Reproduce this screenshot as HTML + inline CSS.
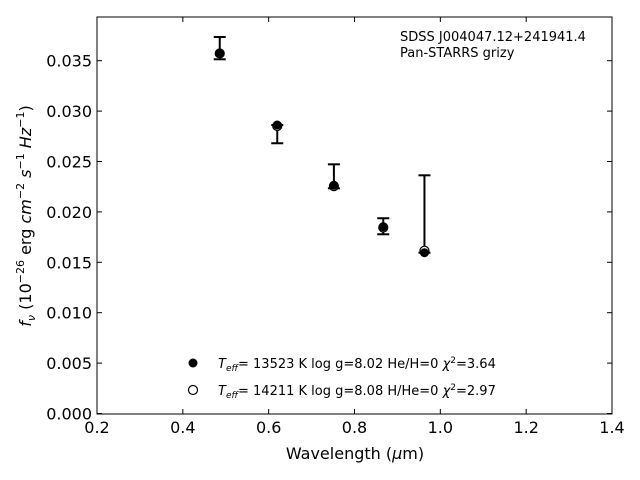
<!DOCTYPE html>
<html><head><meta charset="utf-8"><style>
body{margin:0;background:#fff}
svg{display:block;font-family:"DejaVu Sans","Liberation Sans",sans-serif}
</style></head><body>
<svg id="chart" width="640" height="480">
<rect x="97" y="17" width="515" height="397" fill="none" stroke="#000" stroke-width="1"/>
<g id="ticks"></g><g id="marks"></g>
<text x="355" y="459" font-size="16" text-anchor="middle">Wavelength (<tspan font-style="italic">μ</tspan>m)</text>
<text transform="translate(31,216) rotate(-90)" font-size="16" text-anchor="middle"><tspan font-style="italic">f<tspan font-size="11" dy="4">ν</tspan></tspan><tspan dy="-4"> (10</tspan><tspan font-size="11" dy="-7">−26</tspan><tspan dy="7"> erg </tspan><tspan font-style="italic">cm</tspan><tspan font-size="11" dy="-7">−2</tspan><tspan dy="7" font-style="italic"> s</tspan><tspan font-size="11" dy="-7">−1</tspan><tspan dy="7" font-style="italic"> Hz</tspan><tspan font-size="11" dy="-7">−1</tspan><tspan dy="7">)</tspan></text>
<text x="400" y="41" font-size="13">SDSS J004047.12+241941.4</text>
<text x="400" y="57" font-size="13">Pan-STARRS grizy</text>
<circle cx="193" cy="363" r="4.5" fill="#000"/>
<text x="218" y="368" font-size="13"><tspan font-style="italic">T<tspan font-size="9" dy="3">eff</tspan></tspan><tspan dy="-3">= 13523 K  log g=8.02  He/H=0  </tspan><tspan font-style="italic">χ</tspan><tspan font-size="9" dy="-5">2</tspan><tspan dy="5">=3.64</tspan></text>
<circle cx="193" cy="390" r="4.5" fill="#fff" stroke="#000" stroke-width="1.2"/>
<text x="218" y="395" font-size="13"><tspan font-style="italic">T<tspan font-size="9" dy="3">eff</tspan></tspan><tspan dy="-3">= 14211 K  log g=8.08  H/He=0  </tspan><tspan font-style="italic">χ</tspan><tspan font-size="9" dy="-5">2</tspan><tspan dy="5">=2.97</tspan></text>
</svg>
<script>
const wavelengths=[0.486,0.620,0.752,0.867,0.963];
const modelFilled=[0.03569,0.02862,0.02264,0.01853,0.01595];
const modelOpen=[0.03572,0.02852,0.02256,0.01845,0.01615];
const errLow=[0.03514,0.02681,0.02234,0.01778,0.01595];
const errHigh=[0.03735,0.02862,0.02472,0.01937,0.02363];
const xTicks=[0.2,0.4,0.6,0.8,1.0,1.2,1.4];
const xTickLabels=["0.2","0.4","0.6","0.8","1.0","1.2","1.4"];
const yTicks=[0,0.005,0.01,0.015,0.02,0.025,0.03,0.035];
const yTickLabels=["0.000","0.005","0.010","0.015","0.020","0.025","0.030","0.035"];
const NS="http://www.w3.org/2000/svg";
const X=v=>97+(v-0.2)*515/1.2;
const Y=v=>413.5-v*10080;
function mk(p,t,a){const e=document.createElementNS(NS,t);for(const k in a)e.setAttribute(k,a[k]);p.appendChild(e);return e;}
const tg=document.getElementById('ticks'),mg=document.getElementById('marks');
xTicks.forEach((v,i)=>{const x=X(v);
 let l=mk(tg,'line',{x1:x,x2:x,y1:414,y2:409,stroke:'#000'});
 
 
 let l2=mk(tg,'line',{x1:x,x2:x,y1:17,y2:22,stroke:'#000'});
 
 
 let t=mk(tg,'text',{x:x,y:433,'font-size':16,'text-anchor':'middle'});t.textContent=xTickLabels[i];
 
 
});
yTicks.forEach((v,i)=>{const y=Y(v);
 let l=mk(tg,'line',{x1:97,x2:102,y1:y,y2:y,stroke:'#000'});
 
 
 let l2=mk(tg,'line',{x1:607,x2:612,y1:y,y2:y,stroke:'#000'});
 
 
 let t=mk(tg,'text',{x:92,y:y+6,'font-size':16,'text-anchor':'end'});t.textContent=yTickLabels[i];
 
 
});
wavelengths.forEach((w,i)=>{const x=X(w);
 let g=mk(mg,'g',{stroke:'#000','stroke-width':2});
 
 
 mk(g,'line',{x1:x,x2:x,y1:Y(errLow[i]),y2:Y(errHigh[i])});
 mk(g,'line',{x1:x-6,x2:x+6,y1:Y(errLow[i]),y2:Y(errLow[i])});
 mk(g,'line',{x1:x-6,x2:x+6,y1:Y(errHigh[i]),y2:Y(errHigh[i])});
 let o=mk(mg,'circle',{cx:x,cy:Y(modelOpen[i]),r:4.5,fill:'#fff',stroke:'#000','stroke-width':1.2});
 
 
 let f=mk(mg,'circle',{cx:x,cy:Y(modelFilled[i]),r:4.5,fill:'#000'});
 
 
});
</script>
</body></html>
